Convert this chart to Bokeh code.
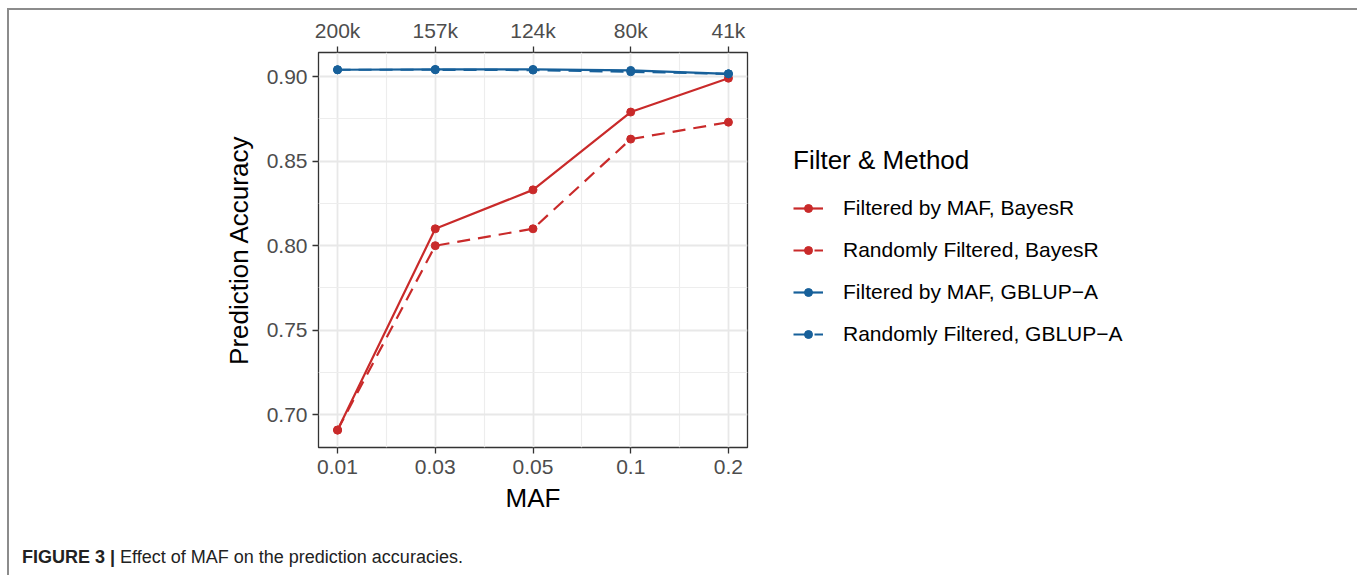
from bokeh.plotting import figure
from bokeh.models import (Range1d, LinearAxis, FixedTicker, Legend, LegendItem, Div)
from bokeh.layouts import column
from bokeh.embed import file_html
from bokeh.resources import INLINE

# ---- data ----
maf_labels = ["0.01", "0.03", "0.05", "0.1", "0.2"]
snp_labels = ["200k", "157k", "124k", "80k", "41k"]
x_pos = [0, 1, 2, 3, 4]
y_ticks = [0.70, 0.75, 0.80, 0.85, 0.90]
y_tick_labels = ["0.70", "0.75", "0.80", "0.85", "0.90"]

maf_bayesr = [0.691, 0.810, 0.833, 0.879, 0.899]
rand_bayesr = [0.691, 0.800, 0.810, 0.863, 0.873]
maf_gblup = [0.9040, 0.9042, 0.9042, 0.9036, 0.9016]
rand_gblup = [0.9040, 0.9040, 0.9038, 0.9028, 0.9016]

series_names = ["Filtered by MAF, BayesR", "Randomly Filtered, BayesR",
                "Filtered by MAF, GBLUP\u2212A", "Randomly Filtered, GBLUP\u2212A"]
series_values = [maf_bayesr, rand_bayesr, maf_gblup, rand_gblup]
RED = "#C92A2A"
BLUE = "#17609A"
series_colors = [RED, RED, BLUE, BLUE]
series_dash = ["solid", "13 8", "solid", "13 8"]

caption_bold = "FIGURE 3 |"
caption_text = "Effect of MAF on the prediction accuracies."

FONT = "Liberation Sans"
W = 1346

p = figure(frame_width=429, frame_height=395, output_backend="svg", toolbar_location=None,
           x_range=Range1d(-0.195, 4.195), y_range=Range1d(0.6807, 0.9142),
           min_border_left=309, min_border_right=0, min_border_top=42,
           min_border_bottom=91)
p.background_fill_color = "white"
p.border_fill_color = "white"
p.outline_line_color = "#333333"
p.outline_line_width = 1.3

xb = p.xaxis[0]
yl = p.yaxis[0]

xt = FixedTicker(ticks=x_pos, minor_ticks=[0.5, 1.5, 2.5, 3.5])
yt = FixedTicker(ticks=y_ticks, minor_ticks=[0.725, 0.775, 0.825, 0.875])
xb.ticker = xt
yl.ticker = yt
xb.major_label_overrides = {k: v for k, v in zip(x_pos, maf_labels)}
yl.major_label_overrides = {k: v for k, v in zip(y_ticks, y_tick_labels)}

top = LinearAxis(ticker=xt, major_label_overrides={k: v for k, v in zip(x_pos, snp_labels)})
p.add_layout(top, "above")

for ax in [xb, yl, top]:
    ax.axis_line_color = None
    ax.major_tick_line_color = "#333333"
    ax.major_tick_line_width = 1.3
    ax.major_tick_out = 6
    ax.major_tick_in = 0
    ax.minor_tick_line_color = None
    ax.major_label_text_font = FONT
    ax.major_label_text_font_size = "21px"
    ax.major_label_text_color = "#4D4D4D"
    ax.axis_label_text_font = FONT
    ax.axis_label_text_font_size = "26px"
    ax.axis_label_text_font_style = "normal"
    ax.axis_label_text_color = "black"

xb.axis_label = "MAF"
xb.major_label_standoff = 6
xb.axis_label_standoff = 6
yl.axis_label = "Prediction Accuracy"
yl.major_label_standoff = 5
yl.axis_label_standoff = 10
top.major_label_standoff = 5

p.xgrid.grid_line_color = "#E8E8E8"
p.xgrid.grid_line_width = 1.8
p.ygrid.grid_line_color = "#E8E8E8"
p.ygrid.grid_line_width = 1.8
p.xgrid.minor_grid_line_color = "#EDEDED"
p.xgrid.minor_grid_line_width = 1.2
p.ygrid.minor_grid_line_color = "#EDEDED"
p.ygrid.minor_grid_line_width = 1.2

items = []
for name, vals, col, dash in zip(series_names, series_values, series_colors, series_dash):
    ln = p.line(x_pos, vals, line_color=col, line_width=2.2, line_dash=dash)
    sc = p.scatter(x_pos, vals, size=8, fill_color=col, line_color=col)
    items.append(LegendItem(label=name, renderers=[ln, sc]))

legend = Legend(items=items, location=(46, 101), title="Filter & Method",
                title_text_font=FONT, title_text_font_size="26px", title_text_color="black",
                title_text_font_style="normal", title_standoff=20,
                label_text_font=FONT, label_text_font_size="21px", label_text_color="black",
                glyph_width=30, glyph_height=20, label_standoff=20, label_height=20,
                spacing=18, padding=0, margin=40, border_line_color=None,
                background_fill_alpha=0)
p.add_layout(legend, "right")

cap = Div(text=(f'<div style="padding:4px 0 0 8px; font-family:\'{FONT}\'; font-size:18px; '
                f'line-height:20px; color:#222; white-space:nowrap;">'
                f'<b>{caption_bold}</b> {caption_text}</div>'),
          width=W, height=30)

layout = column(p, cap, spacing=0,
                styles={"margin-left": "7px", "margin-top": "8px",
                        "border-left": "2px solid #8c8c8c", "border-top": "2px solid #8c8c8c",
                        "border-right": "2px solid #8c8c8c", "background": "white"})

open("out.html", "w").write(file_html(layout, INLINE))
